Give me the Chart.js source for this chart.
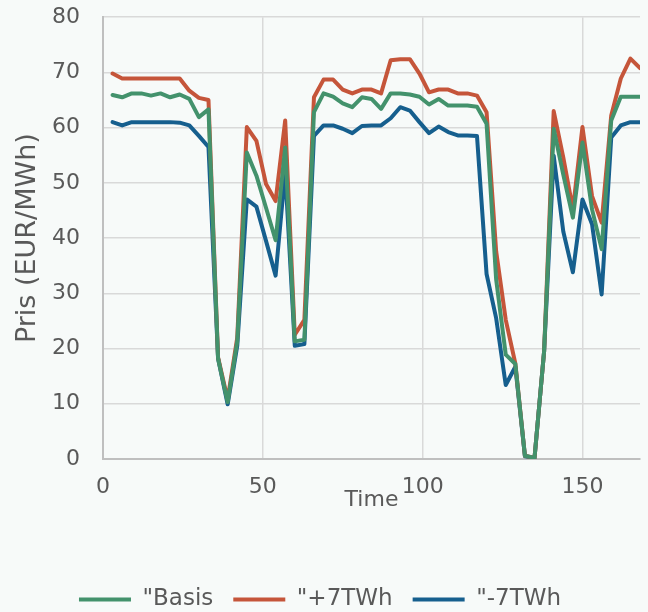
<!DOCTYPE html>
<html>
<head>
<meta charset="utf-8">
<script src="https://cdn.jsdelivr.net/npm/chart.js@4/dist/chart.umd.min.js"></script>
<style>
  html, body { margin: 0; padding: 0; background: #f7faf9; height: 612px; overflow: hidden; }
  /* canvas a bit taller and pulled up so the plot top sits where the reference has it */
  #wrap { width: 648px; height: 631px; margin-top: -19px; }
</style>
</head>
<body>
<div id="wrap"><canvas id="chart"></canvas></div>
<script>
const hours = [3, 6, 9, 12, 15, 18, 21, 24, 27, 30, 33, 36, 39, 42, 45, 48, 51, 54, 57, 60,
  63, 66, 69, 72, 75, 78, 81, 84, 87, 90, 93, 96, 99, 102, 105, 108, 111, 114, 117, 120,
  123, 126, 129, 132, 135, 138, 141, 144, 147, 150, 153, 156, 159, 162, 165, 168];

const basis = [65.9, 65.5, 66.2, 66.2, 65.8, 66.2, 65.5, 66.0, 65.2, 61.9, 63.3, 18.2, 10.3, 21.3,
  55.5, 51.3, 45.5, 39.6, 56.4, 21.3, 21.6, 62.8, 66.2, 65.6, 64.4, 63.7, 65.5, 65.2, 63.4, 66.2,
  66.2, 66.0, 65.6, 64.2, 65.2, 64.0, 64.0, 64.0, 63.8, 60.7, 32.5, 18.9, 17.2, 0.6, 0.2, 19.5,
  59.8, 51.5, 43.7, 57.3, 45.2, 38.0, 61.3, 65.6, 65.6, 65.6];

const plus7 = [69.8, 68.9, 68.9, 68.9, 68.9, 68.9, 68.9, 68.9, 66.7, 65.4, 65.0, 18.4, 10.8, 22.0,
  60.1, 57.6, 49.8, 46.7, 61.3, 22.5, 25.2, 65.5, 68.7, 68.7, 66.9, 66.2, 66.9, 66.9, 66.2, 72.2,
  72.4, 72.4, 69.8, 66.4, 66.9, 66.9, 66.2, 66.2, 65.8, 62.8, 37.6, 25.2, 17.3, 0.6, 0.2, 19.5,
  63.0, 54.6, 45.2, 60.1, 47.6, 42.8, 62.2, 68.9, 72.5, 70.8];

const minus7 = [61.0, 60.4, 61.0, 61.0, 61.0, 61.0, 61.0, 60.9, 60.4, 58.5, 56.5, 18.2, 9.9, 20.5,
  47.0, 45.7, 39.5, 33.2, 52.1, 20.5, 20.8, 58.5, 60.4, 60.4, 59.8, 59.0, 60.3, 60.4, 60.4, 61.7,
  63.7, 63.1, 61.0, 59.0, 60.2, 59.2, 58.6, 58.6, 58.5, 33.5, 25.5, 13.4, 16.7, 0.5, 0.2, 19.5,
  54.9, 41.2, 33.8, 47.0, 42.5, 29.8, 58.2, 60.4, 61.0, 61.0];

const seriesNames = ['"Basis', '"+7TWh', '"-7TWh'];
const colors = ["#43926c", "#c5553a", "#165f8e"];

const font = "'DejaVu Sans', sans-serif";
const textColor = "#595959";

function points(vals){
  return hours.map((h, i) => ({ x: h, y: vals[i] }));
}

const datasets = [basis, plus7, minus7].map((vals, i) => ({
  label: seriesNames[i],
  data: points(vals),
  borderColor: colors[i],
  backgroundColor: colors[i],
  borderWidth: 4,
  pointRadius: 0,
  tension: 0,
  borderCapStyle: 'round',
  borderJoinStyle: 'round'
}));

const ctx = document.getElementById('chart').getContext('2d');

new Chart(ctx, {
  type: 'line',
  data: { datasets: datasets },
  options: {
    responsive: true,
    maintainAspectRatio: false,
    animation: false,
    layout: { padding: { left: 0, right: 8, top: 0, bottom: -9 } },
    scales: {
      x: {
        type: 'linear',
        min: 0,
        max: 168,
        afterFit: (scale) => { scale.height = 109; },
        ticks: {
          stepSize: 50,
          includeBounds: false,
          color: textColor,
          font: { family: font, size: 22 },
          padding: 15
        },
        grid: { color: "#d9d9d9", lineWidth: 1.5, drawTicks: false },
        border: { color: "#bfbfbf", width: 2 },
        title: {
          display: true,
          text: "Time",
          color: textColor,
          // tall line box + bottom padding lift the title up towards the tick labels
          font: { family: font, size: 22, lineHeight: 3.7 },
          padding: { top: 0, bottom: 27 }
        }
      },
      y: {
        min: 0,
        max: 80,
        afterFit: (scale) => { scale.width = 103; },
        ticks: {
          stepSize: 10,
          color: textColor,
          font: { family: font, size: 22 },
          padding: 23
        },
        grid: { color: "#d9d9d9", lineWidth: 1.5, drawTicks: false },
        border: { color: "#bfbfbf", width: 2 },
        title: {
          display: true,
          text: "Pris (EUR/MWh)",
          color: textColor,
          font: { family: font, size: 27 },
          padding: { top: 12, bottom: 0 }
        }
      }
    },
    plugins: {
      legend: {
        position: 'bottom',
        labels: {
          usePointStyle: true,
          pointStyle: 'line',
          pointStyleWidth: 52,
          padding: 20,
          color: textColor,
          font: { family: font, size: 23 }
        }
      },
      tooltip: { enabled: false }
    }
  }
});
</script>
</body>
</html>
